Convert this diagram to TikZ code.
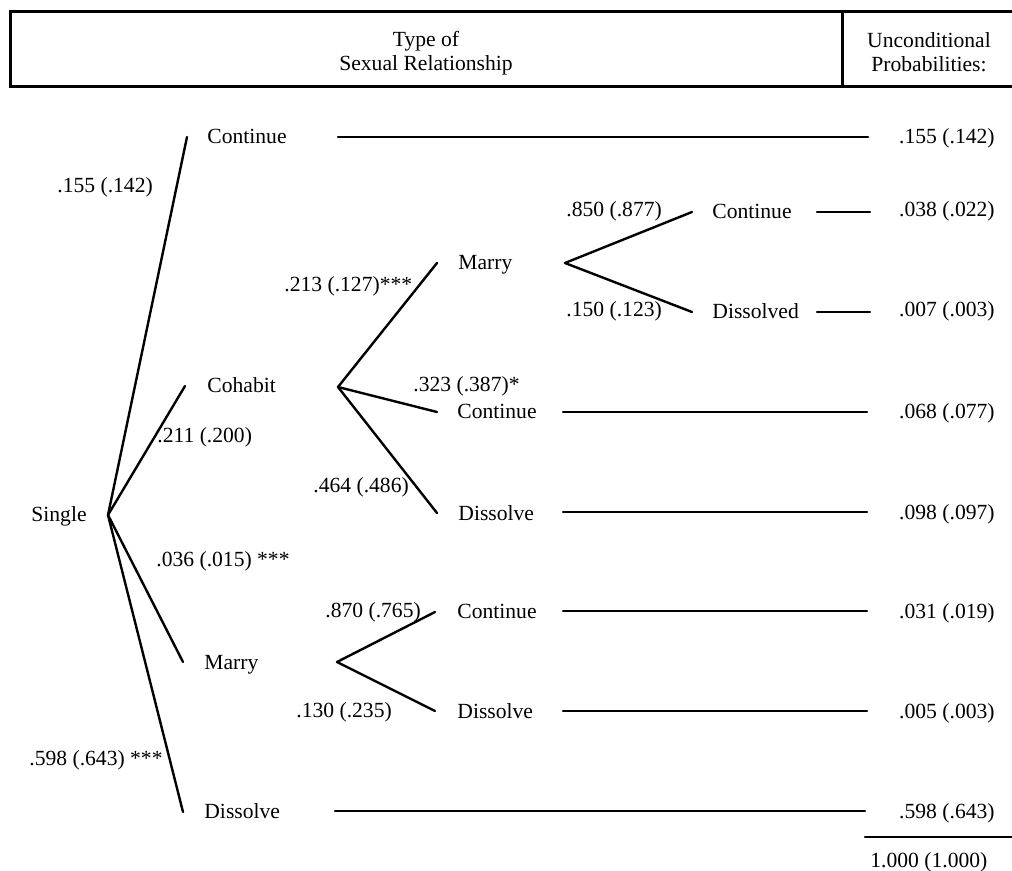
\documentclass[tikz,border=0pt]{standalone}
\usepackage{fontspec}
\setmainfont{Liberation Serif}
\begin{document}
\begin{tikzpicture}[x=0.5pt,y=-0.5pt,
  lbl/.style={anchor=base west,inner sep=0pt,font=\fontsize{10.8}{11.8}\selectfont},
  rlbl/.style={anchor=base east,inner sep=0pt,font=\fontsize{10.8}{11.8}\selectfont},
  hdr/.style={align=center,inner sep=0pt,font=\fontsize{10.8}{11.8}\selectfont},
  edge/.style={line width=1.2pt,line cap=round},
  frame/.style={line width=1.5pt}]
\useasboundingbox (0,0) rectangle (1012,871);
% header
\coordinate (hd1) at (842,12);
\coordinate (hd2) at (842,87);
\draw[frame] (1012,12) -- (10,12) -- (10,87) -- (1012,87);
\draw[frame] (hd1) -- (hd2);
\node[hdr] (htype) at (426,53) {Type of\\Sexual Relationship};
\node[hdr] (hprob) at (929,52) {Unconditional\\Probabilities:};
% state labels
\node[lbl] (single) at (31,522) {Single};
\node[lbl] (cont1) at (207,144) {Continue};
\node[lbl] (cohabit) at (207,393) {Cohabit};
\node[lbl] (marry1) at (204,669) {Marry};
\node[lbl] (diss1) at (204,818) {Dissolve};
\node[lbl] (cmarry) at (458,270) {Marry};
\node[lbl] (ccont) at (457,419) {Continue};
\node[lbl] (cdiss) at (458,520) {Dissolve};
\node[lbl] (mcont) at (712,219) {Continue};
\node[lbl] (mdiss) at (712,319) {Dissolved};
\node[lbl] (marcont) at (457,618) {Continue};
\node[lbl] (mardiss) at (457,718) {Dissolve};
% branch probabilities
\node[lbl] (p1) at (57,193) {.155 (.142)};
\node[lbl] (p2) at (157,443) {.211 (.200)};
\node[lbl] (p3) at (156,567) {.036 (.015) ***};
\node[lbl] (p4) at (29,765) {.598 (.643) ***};
\node[lbl] (p5) at (284,292) {.213 (.127)***};
\node[lbl] (p6) at (413,392) {.323 (.387)*};
\node[lbl] (p7) at (313,493) {.464 (.486)};
\node[lbl] (p8) at (566,217) {.850 (.877)};
\node[lbl] (p9) at (566,317) {.150 (.123)};
\node[lbl] (p10) at (325,617) {.870 (.765)};
\node[lbl] (p11) at (296,717) {.130 (.235)};
% unconditional probabilities
\node[rlbl] (u1) at (995,144) {.155 (.142)};
\node[rlbl] (u2) at (995,217) {.038 (.022)};
\node[rlbl] (u3) at (995,317) {.007 (.003)};
\node[rlbl] (u4) at (995,419) {.068 (.077)};
\node[rlbl] (u5) at (995,519) {.098 (.097)};
\node[rlbl] (u6) at (995,618) {.031 (.019)};
\node[rlbl] (u7) at (995,718) {.005 (.003)};
\node[rlbl] (u8) at (995,818) {.598 (.643)};
\node[lbl] (utot) at (870,867) {1.000 (1.000)};
% branch points
\coordinate (s) at (108,515);
\coordinate (sc) at (187,137);
\coordinate (sh) at (185,386);
\coordinate (sm) at (183,662);
\coordinate (sd) at (183,812);
\coordinate (c) at (338,387);
\coordinate (cm) at (437,263);
\coordinate (cc) at (437,412);
\coordinate (cd) at (437,513);
\coordinate (m2) at (565,263);
\coordinate (m2c) at (692,212);
\coordinate (m2d) at (692,312);
\coordinate (m1) at (337,662);
\coordinate (m1c) at (435,612);
\coordinate (m1d) at (435,711);
\draw[edge] (s) -- (sc);
\draw[edge] (s) -- (sh);
\draw[edge] (s) -- (sm);
\draw[edge] (s) -- (sd);
\draw[edge] (c) -- (cm);
\draw[edge] (c) -- (cc);
\draw[edge] (c) -- (cd);
\draw[edge] (m2) -- (m2c);
\draw[edge] (m2) -- (m2d);
\draw[edge] (m1) -- (m1c);
\draw[edge] (m1) -- (m1d);
% horizontal leaders
\coordinate (l1a) at (338,137); \coordinate (l1b) at (868,137);
\coordinate (l2a) at (817,212); \coordinate (l2b) at (870,212);
\coordinate (l3a) at (817,312); \coordinate (l3b) at (870,312);
\coordinate (l4a) at (563,412); \coordinate (l4b) at (867,412);
\coordinate (l5a) at (563,512); \coordinate (l5b) at (867,512);
\coordinate (l6a) at (563,611); \coordinate (l6b) at (867,611);
\coordinate (l7a) at (563,711); \coordinate (l7b) at (867,711);
\coordinate (l8a) at (335,811); \coordinate (l8b) at (865,811);
\coordinate (l9a) at (865,837); \coordinate (l9b) at (1012,837);
\foreach \i in {1,...,9} \draw[edge] (l\i a) -- (l\i b);
\end{tikzpicture}
\end{document}
